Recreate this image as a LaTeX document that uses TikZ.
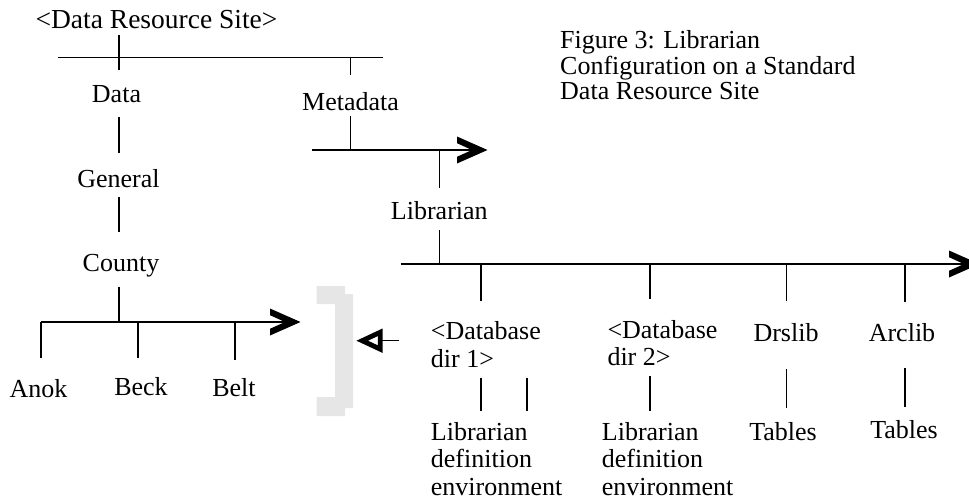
\documentclass[tikz,border=0pt]{standalone}
\usepackage{fontspec}
\setmainfont{Liberation Serif}
\definecolor{bracketgray}{RGB}{230,230,230}
\begin{document}
\begin{tikzpicture}[x=1pt,y=-1pt,
  ln/.style={line width=1.3pt, draw=black},
  lbl/.style={inner sep=0pt, anchor=base, font=\fontsize{26}{27.4}\selectfont},
  mlbl/.style={inner sep=0pt, anchor=north west, align=left, font=\fontsize{26}{27.4}\selectfont},
  chevron/.pic={\fill[black] (0.5,0) -- (-30,-13.5) -- (-30,-6.8) -- (-15,0)
      -- (-30,6.8) -- (-30,13.5) -- cycle;},
]
\useasboundingbox (0,0) rectangle (969,501);

% text nodes
\node[lbl, font=\fontsize{27.5}{28}\selectfont] (drs) at (156.5,28) {<Data Resource Site>};
\node[lbl] (data) at (116.5,102) {Data};
\node[lbl] (meta) at (350.5,110) {Metadata};
\node[lbl] (general) at (118.5,187) {General};
\node[lbl] (county) at (121,271.7) {County};
\node[lbl] (anok) at (38.5,397) {Anok};
\node[lbl] (beck) at (141,395) {Beck};
\node[lbl] (belt) at (234,396) {Belt};
\node[lbl] (lib) at (439.3,219.3) {Librarian};
\node[mlbl] (db1) at (430.7,321.6) {<Database\\dir 1>};
\node[mlbl] (db2) at (607.3,320.3) {<Database\\dir 2>};
\node[lbl] (drslib) at (786,341) {Drslib};
\node[lbl] (arclib) at (902,341) {Arclib};
\node[mlbl] (lde1) at (430.7,422.3) {Librarian\\definition\\environment};
\node[mlbl] (lde2) at (601.7,422.3) {Librarian\\definition\\environment};
\node[lbl] (tab1) at (783,440) {Tables};
\node[lbl] (tab2) at (904,438.5) {Tables};
\node[mlbl, font=\fontsize{26}{25.5}\selectfont] (title) at (560,30.6)
  {Figure 3: Librarian\\Configuration on a Standard\\Data Resource Site};

% bus and junction coordinates
\coordinate (b0L) at (58,57.5);
\coordinate (b0R) at (383,57.5);
\coordinate (b1L) at (312,150);
\coordinate (b1R) at (487,150);
\coordinate (b2L) at (41,322);
\coordinate (b2R) at (300,322);
\coordinate (b3L) at (400.7,264);
\coordinate (b3R) at (979,264);
\coordinate (xa) at (119,0);
\coordinate (xbeck) at (138,0);
\coordinate (xbelt) at (235,0);
\coordinate (x1) at (481,0);
\coordinate (x1b) at (527,0);
\coordinate (x2) at (650,0);
\coordinate (x3) at (786.5,0);
\coordinate (x4) at (905,0);
\coordinate (tailA) at (399,340.7);
\coordinate (tipA) at (356.5,340.7);

% gray bracket
\fill[bracketgray] (316.7,286) -- (345,286) -- (345,294) -- (353,294) -- (353,408)
  -- (345,408) -- (345,416) -- (316.7,416) -- (316.7,397) -- (335,397)
  -- (335,304) -- (316.7,304) -- cycle;

% left tree
\draw[ln] (b0L) -- (b0R);
\draw[ln] ([yshift=-7pt]drs.base -| xa) -- ([yshift=32pt]data.base -| xa);
\draw[ln] (b0L -| meta.base) -- ([yshift=35pt]meta.base);
\draw[ln] ([yshift=-15pt]data.base -| xa) -- ([yshift=34pt]general.base -| xa);
\draw[ln] ([yshift=-10pt]general.base -| xa) -- ([yshift=40pt]county.base -| xa);
\draw[ln] ([yshift=-15pt]county.base -| xa) -- (b2L -| xa);
\draw[ln] (b2L) -- ([xshift=-14pt]b2R);
\pic at (b2R) {chevron};
\draw[ln] (b2L) -- ([yshift=39pt]anok.base -| b2L);
\draw[ln] (b2L -| xbeck) -- ([yshift=37pt]beck.base -| xbeck);
\draw[ln] (b2L -| xbelt) -- ([yshift=36pt]belt.base -| xbelt);

% open triangle arrow
\draw[ln] (tailA) -- ([xshift=23pt]tipA);
\fill[black,even odd rule] (356.5,340.7) -- (382.5,328.5) -- (382.5,352.9) -- cycle
  (368,340.7) -- (377.8,336.1) -- (377.8,345.3) -- cycle;

% metadata branch
\draw[ln] ([yshift=-6pt]meta.base) -- (b1L -| meta.base);
\draw[ln] (b1L) -- ([xshift=-14pt]b1R);
\pic at (b1R) {chevron};
\draw[ln] (b1L -| lib.base) -- ([yshift=31pt]lib.base);
\draw[ln] ([yshift=-11pt]lib.base) -- (b3L -| lib.base);
\draw[ln] (b3L) -- ([xshift=-14pt]b3R);
\pic at (b3R) {chevron};

% drops from librarian bus
\draw[ln] (b3L -| x1) -- ([yshift=21pt]db1.north -| x1);
\draw[ln] (b3L -| x2) -- ([yshift=21pt]db2.north -| x2);
\draw[ln] (b3L -| x3) -- ([yshift=40pt]drslib.base -| x3);
\draw[ln] (b3L -| x4) -- ([yshift=39pt]arclib.base -| x4);

% lower connectors
\draw[ln] ([yshift=-10pt]db1.south -| x1) -- ([yshift=11.6pt]lde1.north -| x1);
\draw[ln] ([yshift=-10pt]db1.south -| x1b) -- ([yshift=11.6pt]lde1.north -| x1b);
\draw[ln] ([yshift=-10pt]db2.south -| x2) -- ([yshift=11.6pt]lde2.north -| x2);
\draw[ln] ([yshift=-28pt]drslib.base -| x3) -- ([yshift=31.7pt]tab1.base -| x3);
\draw[ln] ([yshift=-26.7pt]arclib.base -| x4) -- ([yshift=31.8pt]tab2.base -| x4);
\end{tikzpicture}
\end{document}
